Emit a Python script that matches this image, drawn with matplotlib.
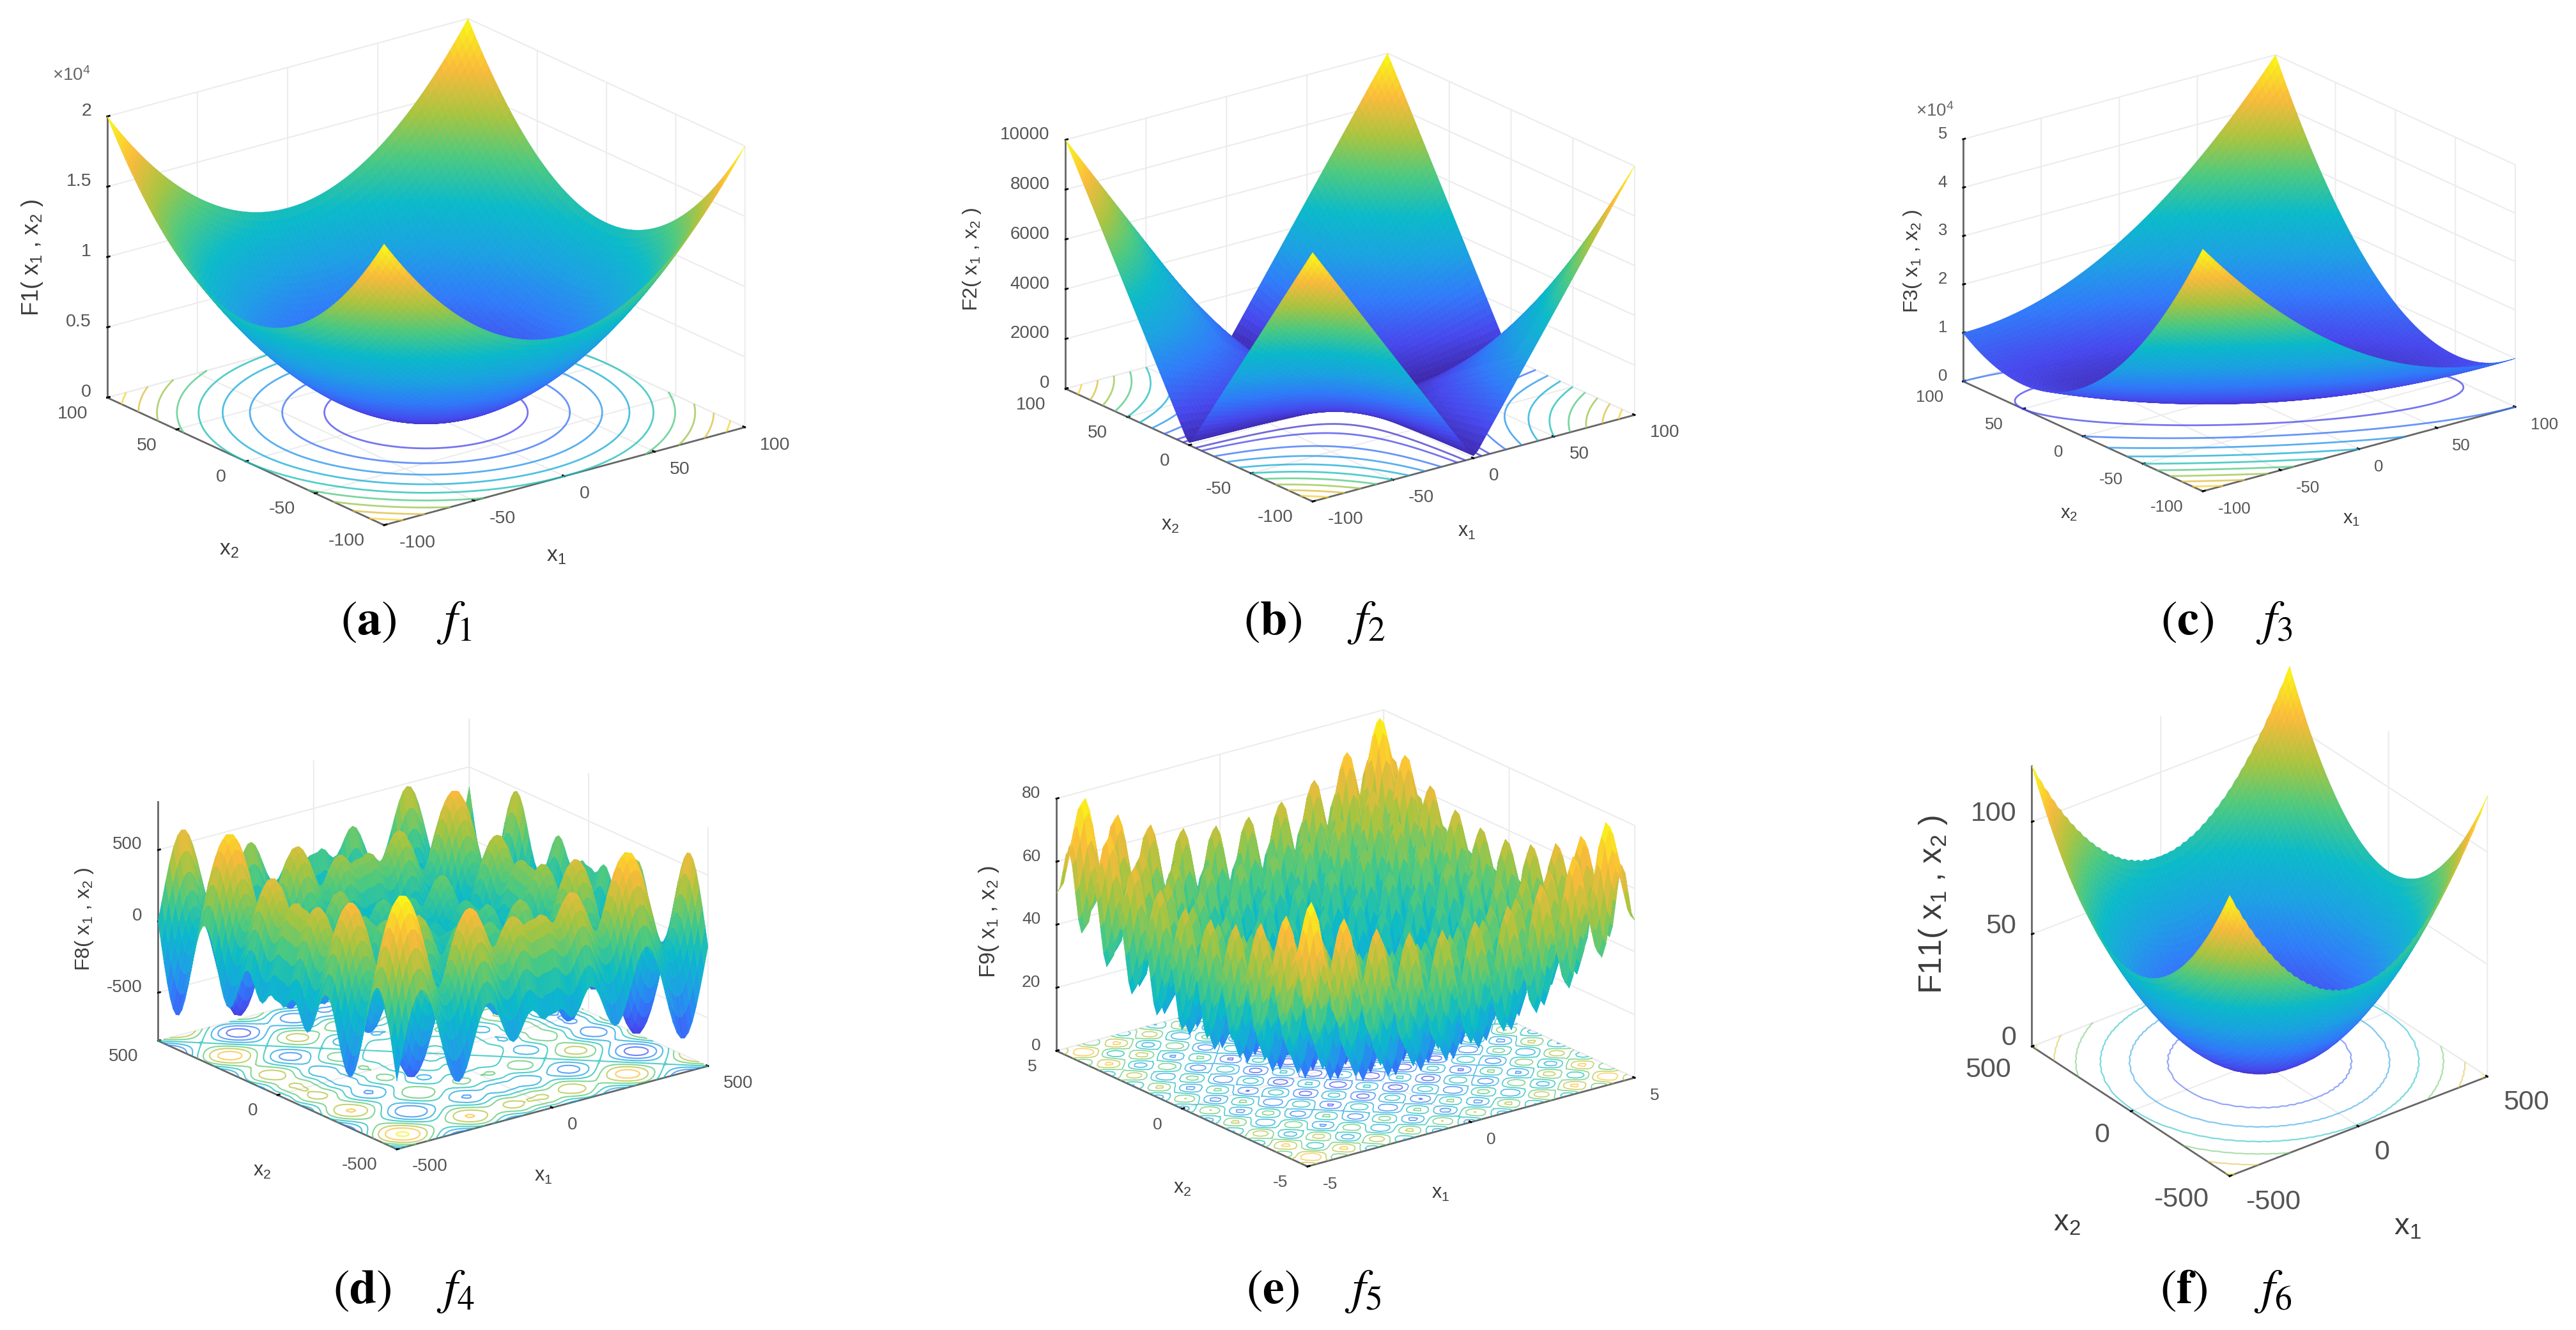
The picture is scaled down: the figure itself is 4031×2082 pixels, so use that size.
import numpy as np
import matplotlib
matplotlib.use('Agg')
import matplotlib.pyplot as plt
from matplotlib.colors import LinearSegmentedColormap
from mpl_toolkits.mplot3d import proj3d

plt.rcParams['font.family'] = ['Liberation Sans', 'DejaVu Sans']
plt.rcParams['mathtext.fontset'] = 'custom'
plt.rcParams['mathtext.rm'] = 'Liberation Sans'
plt.rcParams['mathtext.default'] = 'rm'
plt.rcParams['axes.unicode_minus'] = False

W, H = 4031, 2082

# heights read along one edge, centre out to the rim, then mirrored
f1_half = [0, 6, 25, 56, 100, 156, 225, 306, 400, 506, 625, 756, 900, 1056, 1225, 1406, 1600, 1806, 2025, 2256,
           2500, 2756, 3025, 3306, 3600, 3906, 4225, 4556, 4900, 5256, 5625, 6006, 6400, 6806, 7225, 7656, 8100,
           8556, 9025, 9506, 10000]
f2_half = [1, 2.5, 5, 7.5, 10, 12.5, 15, 17.5, 20, 22.5, 25, 27.5, 30, 32.5, 35, 37.5, 40, 42.5, 45, 47.5,
           50, 52.5, 55, 57.5, 60, 62.5, 65, 67.5, 70, 72.5, 75, 77.5, 80, 82.5, 85, 87.5, 90, 92.5, 95, 97.5, 100]
f3_ridge = f1_half + [10506, 11025, 11556, 12100, 12656, 13225, 13806, 14400, 15006, 15625, 16256, 16900, 17556,
                      18225, 18906, 19600, 20306, 21025, 21756, 22500, 23256, 24025, 24806, 25600, 26406, 27225,
                      28056, 28900, 29756, 30625, 31506, 32400, 33306, 34225, 35156, 36100, 37056, 38025, 39006,
                      40000]
f4_half = [0, 4.8, 24, 6, -35.4, -62.4, -51.9, -6.2, 54.4, 104.2, 122.9, 102.3, 47.2, -29.4, -107.7, -169.4, -200,
           -192.3, -146.3, -69.6, 25.8, 124.8, 211.4, 272.8, 299.6, 288, 237.6, 155.9, 49.4, -68.1, -184.8, -287.2,
           -365.2, -410, -416.9, -384.6, -315.9, -215.5, -93.6, 42.4, 180.8]
f5_half = [0, 2.95, 10.06, 17.21, 20.25, 17.46, 10.56, 3.7, 1, 4.2, 11.56, 18.96, 22.25, 19.71, 13.06, 6.45, 4,
           7.45, 15.06, 22.71, 26.25, 23.96, 17.56, 11.2, 9, 12.7, 20.56, 28.46, 32.25, 30.21, 24.06, 17.95, 16,
           19.95, 28.06, 36.21, 40.25, 38.46, 32.56, 26.7, 25]
f6_half_x1 = [0, 0.3, 0.1, 0.6, 0.4, 1.3, 1.1, 2.3, 2.2, 3.5, 3.6, 4.9, 5.3, 6.9, 7.4, 9.1, 9.7, 11.6, 12.4, 14.4,
              15.3, 17.5, 18.6, 20.9, 22.2, 24.7, 26.1, 28.8, 30.3, 33.2, 34.8, 37.8, 39.6, 42.8, 44.8, 48.2, 50.2,
              53.8, 56, 59.6, 62.5]
f6_half_x2 = [0, 0.04, 0.16, 0.35, 0.6, 1, 1.4, 1.9, 2.5, 3.2, 3.9, 4.7, 5.6, 6.6, 7.7, 8.8, 10, 11.3, 12.7, 14.1,
              15.6, 17.2, 18.9, 20.7, 22.5, 24.4, 26.4, 28.5, 30.6, 32.9, 35.2, 37.5, 40, 42.5, 45.2, 47.9, 50.6,
              53.5, 56.4, 59.4, 62.5]

# tick values and labels
xy100_ticks = [-100, -50, 0, 50, 100]
xy100_labels = ['-100', '-50', '0', '50', '100']
xy500_ticks = [-500, 0, 500]
xy500_labels = ['-500', '0', '500']
xy5_ticks = [-5, 0, 5]
xy5_labels = ['-5', '0', '5']
f1_zticks = [0, 5000, 10000, 15000, 20000]
f1_zlabels = ['0', '0.5', '1', '1.5', '2']
f2_zticks = [0, 2000, 4000, 6000, 8000, 10000]
f2_zlabels = ['0', '2000', '4000', '6000', '8000', '10000']
f3_zticks = [0, 10000, 20000, 30000, 40000, 50000]
f3_zlabels = ['0', '1', '2', '3', '4', '5']
f4_zticks = [-500, 0, 500]
f4_zlabels = ['-500', '0', '500']
f5_zticks = [0, 20, 40, 60, 80]
f5_zlabels = ['0', '20', '40', '60', '80']
f6_zticks = [0, 50, 100]
f6_zlabels = ['0', '50', '100']

# contour levels on the floor
f1_levels = [2000, 4000, 6000, 8000, 10000, 12000, 14000, 16000, 18000]
f2_levels = [500, 1000, 2000, 3000, 4000, 5000, 6000, 7000, 8000, 9000]
f3_levels = [5000, 10000, 15000, 20000, 25000, 30000, 35000, 40000, 45000]
f4_levels = [-800, -600, -400, -200, 0, 200, 400, 600, 800]
f5_levels = [10, 20, 30, 40, 50, 60, 70]
f6_levels = [20, 40, 60, 80, 100, 120]

parula = LinearSegmentedColormap.from_list('parula', [
    (0.00, (0.2422, 0.1504, 0.6603)),
    (0.10, (0.2780, 0.2800, 0.9300)),
    (0.22, (0.1900, 0.4800, 0.9800)),
    (0.34, (0.1100, 0.6300, 0.8900)),
    (0.47, (0.0400, 0.7300, 0.7900)),
    (0.60, (0.3000, 0.7900, 0.5000)),
    (0.72, (0.6600, 0.7700, 0.2500)),
    (0.85, (0.9800, 0.7300, 0.2300)),
    (1.00, (0.9769, 0.9839, 0.0805))], N=512)


def mirror(half):
    half = np.array(half, dtype=float)
    return np.r_[half[:0:-1], half]


def mirror_odd(half):
    half = np.array(half, dtype=float)
    return np.r_[-half[:0:-1], half]


def px(x, y):
    return x / W, 1 - y / H


def corner_px(ax, x, y, z):
    xs, ys, _ = proj3d.proj_transform(x, y, z, ax.get_proj())
    return ax.transData.transform((xs, ys))


def place(ax, lim, zlim, front, right):
    # size and shift the square axes so that the floor corners land on the picture's corners
    side = 800.0
    ax.set_position([0.2, 0.2, side / W, side / H])
    ax.apply_aspect()
    a = corner_px(ax, -lim, -lim, zlim[0])
    b = corner_px(ax, lim, -lim, zlim[0])
    target = np.hypot(right[0] - front[0], right[1] - front[1])
    side = side * target / np.hypot(*(b - a))
    ax.set_position([0.2, 0.2, side / W, side / H])
    ax.apply_aspect()
    a = corner_px(ax, -lim, -lim, zlim[0])
    dx = front[0] - a[0]
    dy = (H - front[1]) - a[1]
    ax.set_position([0.2 + dx / W, 0.2 + dy / H, side / W, side / H])
    ax.apply_aspect()


fig = plt.figure(figsize=(W / 100, H / 100), dpi=100, facecolor='white')


def draw_panel(x, y, z, lim, zlim, ticks, ticklabels, zticks, zlabels, levels, elev, zratio, front, right,
               fs, pad, zpad, line_w, line_alpha=0.75, color_lo=None, pane_edge='#e6e6e6'):
    ax = fig.add_axes([0.1, 0.1, 0.2, 0.2], projection='3d', computed_zorder=False)
    ax.set_proj_type('ortho')
    ax.patch.set_visible(False)
    ax.view_init(elev=elev, azim=-127.5)
    ax.set_box_aspect((1, 1, zratio))
    X, Y = np.meshgrid(x, y)
    zlo, zhi = z.min(), z.max()
    ax.contour(X, Y, z, levels=levels, zdir='z', offset=zlim[0], cmap=parula, vmin=zlo, vmax=zhi,
               linewidths=line_w, alpha=line_alpha, zorder=1)
    if color_lo is None:
        color_lo = zlo
    surf = ax.plot_surface(X, Y, z, rstride=1, cstride=1, cmap=parula, vmin=color_lo, vmax=zhi, linewidth=0,
                           antialiased=True, shade=False, zorder=2)
    surf.set_edgecolor('face')
    surf.set_linewidth(0.4)
    ax.set_xlim(-lim, lim)
    ax.set_ylim(-lim, lim)
    ax.set_zlim(*zlim)
    ax.set_xticks(ticks)
    ax.set_xticklabels(ticklabels, ha='left', va='baseline')
    ax.set_yticks(ticks)
    ax.set_yticklabels(ticklabels, ha='right', va='baseline')
    ax.set_zticks(zticks)
    ax.set_zticklabels(zlabels, ha='right', va='baseline')
    ax.tick_params(axis='x', labelsize=fs, labelcolor='#555555', pad=pad)
    ax.tick_params(axis='y', labelsize=fs, labelcolor='#555555', pad=pad)
    ax.tick_params(axis='z', labelsize=fs, labelcolor='#555555', pad=zpad)
    for a in (ax.xaxis, ax.yaxis, ax.zaxis):
        a.set_pane_color((1, 1, 1, 0))
        a.pane.set_edgecolor(pane_edge)
        a.pane.set_linewidth(1.5)
        a.line.set_color('#666666')
        a.line.set_linewidth(2.0)
        a._axinfo['grid']['color'] = '#ececec'
        a._axinfo['grid']['linewidth'] = 1.5
        a._axinfo['tick']['inward_factor'] = 0.0
        a._axinfo['tick']['outward_factor'] = 0.08
        a._axinfo['tick']['linewidth'] = {True: 2.0, False: 1.0}
        a._axinfo['tick']['color'] = '#666666'
    place(ax, lim, zlim, front, right)
    return ax


x100 = np.linspace(-100, 100, 81)
x500 = np.linspace(-500, 500, 81)
x5 = np.linspace(-5, 5, 81)

f1_z = np.add.outer(mirror(f1_half), mirror(f1_half))
f2_z = np.multiply.outer(mirror(f2_half), mirror(f2_half))
f3_edge = mirror(f1_half)
f3_ridge_arr = np.array(f3_ridge, dtype=float)
idx = np.arange(-40, 41)
f3_z = f3_edge[:, None] + f3_ridge_arr[np.abs(idx[None, :] + idx[:, None])]
f4_z = np.add.outer(mirror_odd(f4_half), mirror_odd(f4_half))
f5_z = np.add.outer(mirror(f5_half), mirror(f5_half))
f6_z = np.add.outer(mirror(f6_half_x2), mirror(f6_half_x1))

draw_panel(x100, x100, f1_z, 100, (0, 20000), xy100_ticks, xy100_labels, f1_zticks, f1_zlabels, f1_levels,
           20.7, 0.661, (601, 822), (1166, 670), 20.5, 14, 2, 2.0)
draw_panel(x100, x100, f2_z, 100, (0, 10000), xy100_ticks, xy100_labels, f2_zticks, f2_zlabels, f2_levels,
           20.5, 0.655, (2054, 785), (2558, 650), 20, 14, 2, 2.0)
draw_panel(x100, x100, f3_z, 100, (0, 50000), xy100_ticks, xy100_labels, f3_zticks, f3_zlabels, f3_levels,
           20.6, 0.657, (3447, 769), (3936, 637), 18.5, 14, 2, 2.0)
draw_panel(x500, x500, f4_z, 500, (-837, 837), xy500_ticks, xy500_labels, f4_zticks, f4_zlabels, f4_levels,
           20.4, 0.65, (621, 1799), (1108, 1669), 20, 14, 2, 1.5, pane_edge='none')
draw_panel(x5, x5, f5_z, 5, (0, 80), xy5_ticks, xy5_labels, f5_zticks, f5_zlabels, f5_levels,
           20.7, 0.654, (2046, 1826), (2558, 1687), 19, 14, 2, 1.2, color_lo=-12)
draw_panel(x500, x500, f6_z, 500, (0, 125), xy500_ticks, xy500_labels, f6_zticks, f6_zlabels, f6_levels,
           30.2, 1.0, (3489, 1841), (3893, 1687), 31, 18, 3, 1.6, line_alpha=0.55, pane_edge='none')

# axis titles sit at fixed places in the figure
z_titles = [('F1( x$_1$ , x$_2$ )', 50, 403, 26), ('F2( x$_1$ , x$_2$ )', 1521, 406, 23),
            ('F3( x$_1$ , x$_2$ )', 2993, 409, 23), ('F8( x$_1$ , x$_2$ )', 132, 1439, 23),
            ('F9( x$_1$ , x$_2$ )', 1548, 1443, 25), ('F11( x$_1$ , x$_2$ )', 3025, 1416, 36)]
for txt, tx, ty, fs in z_titles:
    fig.text(*px(tx, ty), txt, rotation=90, ha='center', va='center', fontsize=fs, color='#3c3c3c')

x_titles = [(358, 861, 870, 871, 24), (1831, 822, 2295, 832, 22), (3238, 804, 3680, 812, 21),
            (410, 1833, 850, 1841, 22), (1850, 1860, 2254, 1868, 22), (3234, 1915, 3767, 1920, 34)]
for x2x, x2y, x1x, x1y, fs in x_titles:
    fig.text(*px(x2x, x2y), 'x$_2$', ha='center', va='center', fontsize=fs, color='#3c3c3c')
    fig.text(*px(x1x, x1y), 'x$_1$', ha='center', va='center', fontsize=fs, color='#3c3c3c')

fig.text(*px(82, 126), '×10$^4$', fontsize=20, color='#666666')
fig.text(*px(2998, 182), '×10$^4$', fontsize=20, color='#666666')

# captions
captions = [('a', '1', 533, 683), ('b', '2', 1946, 2108), ('c', '3', 3381, 3530),
            ('d', '4', 521, 683), ('e', '5', 1950, 2104), ('f', '6', 3380, 3527)]
for i, (letter, num, x0, x1) in enumerate(captions):
    yb = 993 if i < 3 else 2040
    fig.text(*px(x0, yb), r'$\mathrm{(}\mathbf{%s}\mathrm{)}$' % letter, fontsize=55, math_fontfamily='stix',
             va='baseline')
    fig.text(*px(x1, yb), r'$\mathit{f}_{%s}$' % num, fontsize=55, math_fontfamily='stix', va='baseline')

fig.savefig('out.png', dpi=100)
